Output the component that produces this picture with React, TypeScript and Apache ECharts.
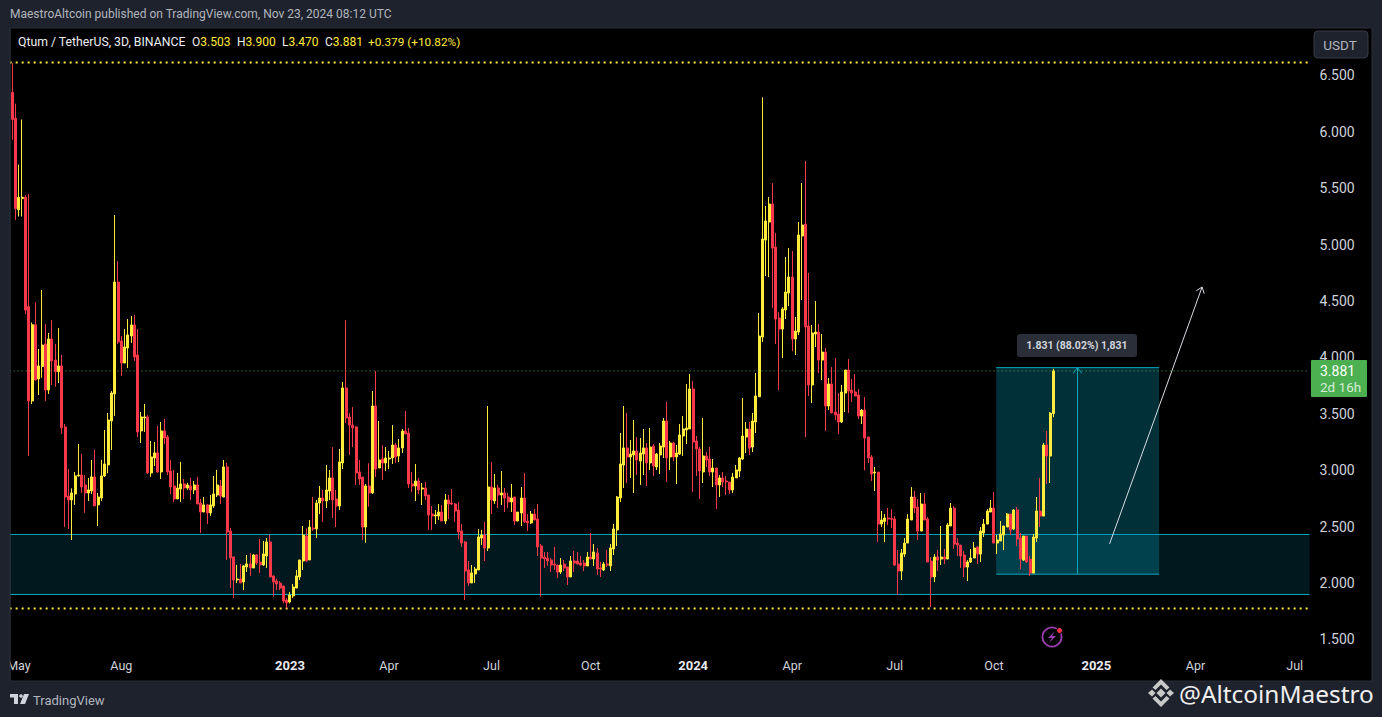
import React, { useEffect, useRef } from "react";
import * as echarts from "echarts";

const opens = [
  6.35,6.12,5.31,5.41,5.42,4.45,3.615,4.29,3.81,3.92,
  4.12,3.712,4.164,3.978,3.875,3.925,3.384,2.772,2.737,2.79,
  2.95,2.958,2.87,2.799,2.817,2.941,2.693,2.755,2.95,3.047,
  3.437,3.677,4.669,4.146,3.951,4.084,4.191,4.288,4.022,3.349,
  3.464,3.473,2.976,3.109,3.154,2.985,3.349,3.295,2.994,2.861,
  2.746,2.834,2.879,2.843,2.861,2.826,2.87,2.71,2.63,2.693,
  2.622,2.684,2.781,2.861,2.763,3.03,2.462,2.232,2.028,2.036,
  2.01,2.143,2.17,2.134,2.249,2.187,2.161,2.24,2.364,2.063,
  2.019,2.0,1.974,1.85,1.832,1.886,1.956,2.054,2.196,2.417,
  2.205,2.488,2.48,2.71,2.754,2.728,2.816,2.932,2.745,2.683,
  3.065,3.73,3.472,3.401,3.384,2.985,2.94,2.497,2.861,2.799,
  3.57,3.02,3.1,3.065,3.1,3.109,3.224,3.127,3.198,3.348,
  3.33,2.878,2.861,2.905,2.834,2.843,2.781,2.612,2.595,2.595,
  2.63,2.55,2.737,2.71,2.701,2.648,2.462,2.364,2.116,2.001,
  2.081,2.116,2.4,2.426,2.311,2.852,2.728,2.843,2.781,2.799,
  2.763,2.719,2.763,2.55,2.621,2.754,2.55,2.533,2.612,2.568,
  2.329,2.231,2.222,2.205,2.169,2.16,2.098,2.169,2.143,2.054,
  2.196,2.196,2.178,2.178,2.152,2.231,2.214,2.267,2.134,2.116,
  2.169,2.152,2.302,2.471,2.754,3.047,3.198,3.118,3.136,3.171,
  3.082,3.144,3.198,3.065,3.215,3.029,3.136,3.206,3.437,3.118,
  3.242,3.118,3.144,3.304,3.357,3.366,3.721,3.26,3.189,2.985,
  3.127,3.1,2.985,3.02,2.87,2.932,2.905,2.896,2.825,2.932,
  2.994,3.1,3.295,3.366,3.206,3.428,3.652,4.181,5.041,5.201,
  5.36,4.979,4.35,4.252,4.421,4.571,4.713,4.164,4.226,5.077,
  5.183,4.279,3.756,4.208,4.226,3.977,4.048,3.57,3.765,3.516,
  3.499,3.428,3.685,3.889,3.711,3.694,3.667,3.481,3.534,3.295,
  3.117,2.976,2.984,2.523,2.547,2.577,2.574,2.568,2.169,2.107,
  2.257,2.355,2.559,2.763,2.674,2.461,2.701,2.568,2.195,2.054,
  2.231,2.213,2.231,2.213,2.506,2.665,2.355,2.337,2.249,2.142,
  2.187,2.222,2.32,2.257,2.444,2.523,2.63,2.665,2.355,2.373,
  2.426,2.497,2.612,2.479,2.648,2.399,2.204,2.417,2.213,2.089,
  2.399,2.639,2.594,3.224,3.126,3.503,
];
const closes = [
  6.11,5.32,5.42,5.42,4.42,3.615,4.29,3.80,3.925,4.11,
  3.712,4.164,3.969,3.875,3.925,3.378,2.763,2.737,2.799,2.95,
  2.958,2.852,2.799,2.826,2.941,2.684,2.763,2.95,3.056,3.446,
  3.685,4.669,4.138,3.951,4.093,4.2,4.288,4.005,3.34,3.473,
  3.473,2.976,3.118,3.154,2.985,3.349,3.287,2.985,2.852,2.746,
  2.843,2.879,2.843,2.87,2.826,2.87,2.701,2.63,2.693,2.622,
  2.693,2.79,2.87,2.772,3.03,2.453,2.223,2.028,2.036,2.001,
  2.152,2.17,2.134,2.249,2.178,2.161,2.258,2.365,2.054,2.01,
  1.992,1.956,1.841,1.826,1.894,1.965,2.063,2.205,2.426,2.196,
  2.497,2.48,2.71,2.754,2.728,2.825,2.932,2.737,2.683,3.074,
  3.73,3.464,3.401,3.375,2.976,2.923,2.497,2.861,2.799,3.57,
  3.011,3.091,3.065,3.109,3.109,3.224,3.118,3.198,3.348,3.322,
  2.878,2.861,2.905,2.825,2.843,2.772,2.604,2.595,2.604,2.63,
  2.55,2.737,2.701,2.701,2.639,2.453,2.355,2.107,2.001,2.09,
  2.125,2.409,2.426,2.311,2.852,2.737,2.843,2.781,2.799,2.754,
  2.719,2.754,2.55,2.63,2.754,2.542,2.533,2.612,2.559,2.32,
  2.222,2.214,2.196,2.16,2.16,2.098,2.16,2.134,2.054,2.196,
  2.178,2.169,2.16,2.152,2.231,2.214,2.276,2.125,2.125,2.169,
  2.16,2.311,2.48,2.763,3.056,3.198,3.118,3.144,3.171,3.091,
  3.153,3.198,3.065,3.206,3.038,3.144,3.215,3.437,3.109,3.242,
  3.118,3.153,3.313,3.366,3.375,3.721,3.251,3.189,2.994,3.127,
  3.091,2.985,3.02,2.87,2.932,2.896,2.896,2.825,2.94,3.003,
  3.109,3.304,3.366,3.198,3.437,3.659,4.19,5.05,5.21,5.36,
  4.97,4.341,4.252,4.429,4.58,4.713,4.164,4.234,5.086,5.174,
  4.27,3.756,4.217,4.226,3.977,4.048,3.57,3.765,3.508,3.49,
  3.428,3.694,3.889,3.703,3.685,3.658,3.481,3.534,3.286,3.109,
  2.967,2.984,2.523,2.559,2.577,2.568,2.565,2.16,2.107,2.266,
  2.355,2.568,2.763,2.665,2.461,2.701,2.559,2.187,2.054,2.231,
  2.204,2.231,2.213,2.515,2.665,2.346,2.337,2.24,2.142,2.187,
  2.222,2.311,2.257,2.461,2.523,2.639,2.665,2.355,2.382,2.435,
  2.506,2.612,2.47,2.648,2.39,2.213,2.417,2.187,2.089,2.408,
  2.639,2.594,3.224,3.126,3.507,3.881,
];
const lows = [
  5.93,5.22,5.25,5.25,4.385,3.127,3.588,3.80,3.668,3.82,
  3.615,3.677,3.756,3.74,3.774,3.322,2.498,2.48,2.382,2.693,
  2.944,2.799,2.622,2.728,2.79,2.684,2.506,2.728,2.941,2.973,
  3.18,3.482,4.12,3.836,3.95,3.907,4.129,3.969,3.295,3.242,
  3.34,2.97,2.941,3.038,2.976,2.923,3.233,2.958,2.79,2.719,
  2.746,2.719,2.746,2.826,2.737,2.79,2.70,2.444,2.63,2.524,
  2.595,2.666,2.763,2.70,2.763,2.205,1.957,1.868,2.001,2.001,
  1.939,2.099,2.063,2.134,2.161,2.09,2.152,2.134,2.054,1.88,
  1.939,1.939,1.82,1.776,1.82,1.868,1.956,2.027,2.116,2.187,
  2.205,2.462,2.4,2.612,2.542,2.666,2.737,2.577,2.497,2.648,
  3.011,3.419,3.136,3.206,2.87,2.87,2.382,2.358,2.677,2.79,
  2.94,3.02,2.914,2.994,3.011,3.056,3.065,3.073,3.153,3.322,
  2.843,2.808,2.728,2.79,2.692,2.737,2.471,2.471,2.524,2.559,
  2.55,2.524,2.568,2.692,2.542,2.388,2.32,1.85,1.974,2.001,
  2.001,2.116,2.338,2.196,2.284,2.612,2.701,2.666,2.692,2.63,
  2.666,2.63,2.515,2.55,2.506,2.533,2.462,2.524,2.559,2.24,
  1.88,2.134,2.152,2.098,2.116,2.045,2.08,2.107,1.983,2.054,
  2.098,2.169,2.152,2.107,2.152,2.214,2.152,2.072,2.054,2.107,
  2.143,2.107,2.249,2.329,2.719,2.843,2.887,2.932,2.799,2.958,
  2.87,2.958,2.861,3.002,2.949,3.002,2.967,3.109,2.896,3.002,
  3.082,2.878,3.136,3.127,3.233,3.366,2.808,2.949,2.745,2.887,
  3.029,2.949,2.852,2.657,2.763,2.852,2.781,2.79,2.799,2.932,
  2.94,3.091,3.153,3.136,3.162,3.331,3.652,4.137,4.722,4.713,
  4.438,4.119,3.711,3.995,4.341,4.456,4.057,4.022,4.199,4.509,
  3.295,3.658,3.596,4.093,3.862,3.8,3.348,3.534,3.508,3.445,
  3.321,3.419,3.516,3.508,3.605,3.658,3.454,3.41,3.0,3.064,
  2.905,2.816,2.364,2.497,2.364,2.515,2.488,2.151,1.894,2.027,
  2.231,2.355,2.559,2.621,2.382,2.461,2.559,2.187,1.788,2.009,
  2.107,2.16,2.169,2.213,2.506,2.302,2.24,2.133,2.054,2.018,
  2.178,2.222,2.169,2.187,2.408,2.523,2.63,2.355,2.257,2.373,
  2.293,2.497,2.426,2.47,2.328,2.124,2.195,2.178,2.062,2.089,
  2.364,2.497,2.594,2.878,2.887,3.47,
];
const highs = [
  6.61,6.25,5.71,6.11,5.44,5.45,4.31,4.49,4.075,4.598,
  4.296,4.217,4.332,4.12,4.261,4.022,3.41,3.012,2.84,2.985,
  3.233,3.145,2.958,2.932,3.092,3.18,2.799,3.092,3.357,3.508,
  3.703,5.263,4.855,4.19,4.252,4.341,4.367,4.376,4.252,3.517,
  3.588,3.49,3.26,3.251,3.393,3.428,3.455,3.313,3.092,3.003,
  2.976,3.074,2.923,2.888,2.932,2.905,2.941,2.746,2.763,2.70,
  2.781,2.95,3.003,2.914,3.092,3.065,2.489,2.232,2.161,2.17,
  2.161,2.249,2.267,2.258,2.258,2.391,2.373,2.4,2.426,2.07,
  2.04,2.018,1.974,1.868,1.921,1.992,2.116,2.205,2.506,2.485,
  2.559,2.763,2.737,2.861,2.825,3.047,3.003,3.206,2.825,3.189,
  3.783,4.332,3.508,3.561,3.39,3.091,2.94,2.878,3.062,3.703,
  3.88,3.437,3.224,3.206,3.171,3.401,3.242,3.277,3.366,3.526,
  3.375,2.985,3.056,2.932,2.887,2.896,2.781,2.683,2.648,2.701,
  2.692,2.79,2.781,2.834,2.71,2.719,2.524,2.373,2.196,2.16,
  2.143,2.48,2.471,2.542,3.57,3.073,2.967,2.87,2.994,2.843,
  2.799,2.878,2.763,2.63,2.852,2.976,2.612,2.639,2.657,2.701,
  2.347,2.276,2.276,2.222,2.32,2.16,2.222,2.205,2.143,2.24,
  2.285,2.276,2.24,2.205,2.276,2.444,2.347,2.311,2.187,2.187,
  2.293,2.347,2.524,2.772,3.331,3.57,3.508,3.268,3.446,3.295,
  3.286,3.366,3.242,3.375,3.233,3.153,3.242,3.464,3.605,3.26,
  3.251,3.224,3.41,3.481,3.765,3.854,3.792,3.304,3.206,3.464,
  3.162,3.206,3.1,3.02,2.958,2.985,2.949,2.896,2.976,3.047,
  3.118,3.641,3.428,3.428,3.508,3.862,4.394,6.306,5.343,5.422,
  5.547,5.103,4.403,4.447,4.89,4.97,4.944,4.359,5.201,5.547,
  5.742,4.749,4.288,4.5,4.297,4.208,4.084,3.818,3.915,3.995,
  3.685,3.756,3.889,3.986,3.809,3.853,3.72,3.543,3.649,3.295,
  3.135,3.029,2.984,2.639,2.612,2.665,2.656,2.594,2.293,2.302,
  2.399,2.612,2.851,2.816,2.745,2.798,2.798,2.585,2.231,2.257,
  2.293,2.506,2.302,2.532,2.71,2.683,2.399,2.337,2.284,2.204,
  2.302,2.364,2.328,2.497,2.568,2.656,2.736,2.807,2.426,2.55,
  2.506,2.621,2.612,2.656,2.674,2.444,2.417,2.417,2.24,2.435,
  2.763,2.931,3.242,3.348,3.516,3.9,
];

const firstBarDate = "2022-04-22";
const categoryCount = 393;
const barDays = 3;
const xTickDates = ["2022-04-30","2022-08-01","2023-01-01","2023-04-01","2023-07-01","2023-10-01","2024-01-01","2024-04-01","2024-07-01","2024-10-01","2025-01-01","2025-04-01","2025-07-01"];
const xTickLabels = ["May","Aug","2023","Apr","Jul","Oct","2024","Apr","Jul","Oct","2025","Apr","Jul"];
const yTicks = [1.5,2,2.5,3,3.5,4,4.5,5,5.5,6,6.5];

const upperDotted = 6.615;
const lowerDotted = 1.775;
const lastPrice = 3.881;
const zoneTop = 2.431;
const zoneBottom = 1.899;
const measureTop = 3.91;
const measureBottom = 2.079;
const measureStart = 298;
const measureEnd = 347;
const measureMid = 322;
const forecastFrom = [332, 2.347];
const forecastTo = [360, 4.625];

const DAY = 86400000;
const startMs = Date.parse(firstBarDate);
const categories = Array.from({ length: categoryCount }, (_, i) =>
  new Date(startMs + i * barDays * DAY).toISOString().slice(0, 10)
);
const labelByIndex = new Map<number, string>();
xTickDates.forEach((d, k) => {
  labelByIndex.set(Math.floor((Date.parse(d) - startMs) / (barDays * DAY)), xTickLabels[k]);
});

const UP = "#ffeb3b";
const DOWN = "#f7374a";
const TEAL = "#00a7bd";
const FONT = "Roboto, sans-serif";

function chevron(tip: number[], from: number[], size: number, stroke: string) {
  const a = Math.atan2(from[1] - tip[1], from[0] - tip[0]);
  const d = 0.65;
  return {
    type: "polyline",
    shape: {
      points: [
        [tip[0] + size * Math.cos(a + d), tip[1] + size * Math.sin(a + d)],
        tip,
        [tip[0] + size * Math.cos(a - d), tip[1] + size * Math.sin(a - d)],
      ],
    },
    style: { stroke, fill: "none", lineWidth: 1 },
  };
}

function hLine(x1: number, x2: number, y: number, stroke: string, lineWidth: number, lineDash?: number[]) {
  return {
    type: "line",
    shape: { x1, y1: y, x2, y2: y },
    style: { stroke, lineWidth, lineDash },
  };
}

function renderAnnotations(params: any, api: any) {
  const g = params.coordSys;
  const left = g.x - 1;
  const right = g.x + g.width;
  const yOf = (p: number) => api.coord([0, p])[1];
  const mL = api.coord([measureStart, measureTop]);
  const mR = api.coord([measureEnd, measureBottom]);
  const mid = api.coord([measureMid, measureTop]);
  const midB = api.coord([measureMid, measureBottom]);
  const midX = Math.round(mid[0]) + 0.5;
  const fA = api.coord(forecastFrom);
  const fB = api.coord(forecastTo);
  return {
    type: "group",
    children: [
      { type: "rect", shape: { x: left, y: yOf(zoneTop), width: right - left, height: yOf(zoneBottom) - yOf(zoneTop) }, style: { fill: "rgba(3,150,180,0.17)" } },
      hLine(left, right, yOf(zoneTop), TEAL, 1),
      hLine(left, right, yOf(zoneBottom), TEAL, 1),
      { type: "rect", shape: { x: mL[0] - 1, y: mL[1], width: mR[0] - mL[0] + 1, height: mR[1] - mL[1] }, style: { fill: "rgba(4,160,190,0.3)" } },
      hLine(mL[0] - 1, mR[0], mL[1], TEAL, 1),
      hLine(mL[0] - 1, mR[0], mR[1], TEAL, 1),
      { type: "line", shape: { x1: midX, y1: midB[1], x2: midX, y2: mid[1] }, style: { stroke: TEAL, lineWidth: 1 } },
      chevron([midX, mid[1]], [midX, midB[1]], 7, TEAL),
      hLine(left, right, yOf(upperDotted), UP, 2, [2, 4]),
      hLine(left, right, yOf(lowerDotted), UP, 2, [2, 4]),
      hLine(left, right, yOf(lastPrice), "#4caf50", 1, [1, 3]),
      { type: "line", shape: { x1: fA[0], y1: fA[1], x2: fB[0], y2: fB[1] }, style: { stroke: "#d8dbe2", lineWidth: 1 } },
      chevron(fB, fA, 7, "#d8dbe2"),
    ],
  };
}

function label(x: number, y: number, text: string, fill: string, font: string, align = "left") {
  return { type: "text", z: 101, x, y, style: { text, fill, font, textAlign: align, textVerticalAlign: "middle" } };
}

function ohlc(x: number, key: string, value: string) {
  return {
    type: "text", z: 101, x, y: 42,
    style: {
      text: `{w|${key}}{y|${value}}`,
      font: `12px ${FONT}`, textVerticalAlign: "middle",
      rich: {
        w: { fill: "#eceef2", font: `12px ${FONT}` },
        y: { fill: UP, font: `12px ${FONT}` },
      },
    },
  };
}

const graphics: any[] = [
  { type: "rect", z: -1, shape: { x: 10, y: 28, width: 1362, height: 653 }, style: { fill: "#000000", stroke: "#2a2e39", lineWidth: 1 } },
  { type: "rect", z: 100, shape: { x: 0, y: 28, width: 10, height: 653 }, style: { fill: "#1e222d" } },
  { type: "line", z: 100, shape: { x1: 10, y1: 28, x2: 10, y2: 681 }, style: { stroke: "#2a2e39", lineWidth: 1 } },
  label(10, 14, "MaestroAltcoin published on TradingView.com, Nov 23, 2024 08:12 UTC", "#b2b5be", `12px ${FONT}`),
  label(18, 42, "Qtum / TetherUS, 3D, BINANCE", "#eceef2", `12.25px ${FONT}`),
  ohlc(192, "O", "3.503"),
  ohlc(237, "H", "3.900"),
  ohlc(282, "L", "3.470"),
  ohlc(325, "C", "3.881"),
  label(368, 42, "+0.379 (+10.82%)", UP, `11.8px ${FONT}`),
  { type: "rect", z: 100, shape: { x: 1314, y: 31, width: 54, height: 27, r: 4 }, style: { fill: "#1e222d", stroke: "#363a45", lineWidth: 1 } },
  label(1340, 45, "USDT", "#b2b5be", `13.5px ${FONT}`, "center"),
  { type: "rect", z: 100, shape: { x: 1311, y: 360, width: 56, height: 37, r: 1 }, style: { fill: "#4caf50" } },
  label(1320, 371, "3.881", "#ffffff", `14px ${FONT}`),
  label(1320, 387, "2d 16h", "#d6ecd7", `13.5px ${FONT}`),
  { type: "rect", z: 100, shape: { x: 1017, y: 334, width: 120, height: 23, r: 3 }, style: { fill: "#2a2e39" } },
  label(1077, 345.5, "1.831 (88.02%) 1,831", "#d1d4dc", `bold 10.5px ${FONT}`, "center"),
  { type: "circle", z: 100, shape: { cx: 1052, cy: 637, r: 9.5 }, style: { fill: "#000000", stroke: "#9c3fb0", lineWidth: 1.8 } },
  { type: "polygon", z: 101, shape: { points: [[1055, 631], [1048, 638], [1052, 638], [1049, 643], [1056, 636], [1052, 636]] }, style: { fill: "#9c3fb0" } },
  { type: "circle", z: 101, shape: { cx: 1059.5, cy: 630.5, r: 3 }, style: { fill: "#f23645", stroke: "#000000", lineWidth: 1 } },
  { type: "rect", z: 100, shape: { x: 10, y: 694, width: 8, height: 3.5 }, style: { fill: "#d1d4dc" } },
  { type: "rect", z: 100, shape: { x: 14, y: 694, width: 4, height: 10 }, style: { fill: "#d1d4dc" } },
  { type: "circle", z: 100, shape: { cx: 21, cy: 696, r: 1.8 }, style: { fill: "#d1d4dc" } },
  { type: "polygon", z: 100, shape: { points: [[24, 694], [29, 694], [25, 704], [20, 704]] }, style: { fill: "#d1d4dc" } },
  label(33, 700, "TradingView", "#b2b5be", `13px ${FONT}`),
  { type: "polygon", z: 100, shape: { points: [[1161, 688.5], [1165.5, 693], [1161, 697.5], [1156.5, 693]] }, style: { fill: "#c9c9c9" } },
  { type: "polygon", z: 100, shape: { points: [[1152, 689.5], [1155.5, 693], [1152, 696.5], [1148, 693]] }, style: { fill: "#c9c9c9" } },
  { type: "polygon", z: 100, shape: { points: [[1170, 689.5], [1174, 693], [1170, 696.5], [1166.5, 693]] }, style: { fill: "#c9c9c9" } },
  { type: "polygon", z: 100, shape: { points: [[1161, 679], [1169.5, 687.5], [1166.5, 690], [1161, 684.5], [1155.5, 690], [1152.5, 687.5]] }, style: { fill: "#c9c9c9" } },
  { type: "polygon", z: 100, shape: { points: [[1161, 707], [1169.5, 698.5], [1166.5, 696], [1161, 701.5], [1155.5, 696], [1152.5, 698.5]] }, style: { fill: "#c9c9c9" } },
  label(1179, 693, "@AltcoinMaestro", "#eeeeee", `24.4px "Noto Sans", sans-serif`),
];

export default function App() {
  const ref = useRef<HTMLDivElement>(null);
  useEffect(() => {
    document.body.style.margin = "0";
    const chart = echarts.init(ref.current!, undefined, { renderer: "svg" });
    chart.setOption({
      animation: false,
      backgroundColor: "#1e222d",
      grid: { left: 10.65, top: 28, width: 1298.87, height: 624, containLabel: false },
      tooltip: { show: false },
      xAxis: {
        type: "category",
        data: categories,
        boundaryGap: true,
        axisLine: { show: false },
        axisTick: { show: false },
        splitLine: { show: false },
        axisLabel: {
          interval: (i: number) => labelByIndex.has(i),
          formatter: (_: string, i: number) => {
            const t = labelByIndex.get(i) || "";
            return /^\d/.test(t) ? `{b|${t}}` : t;
          },
          color: "#d1d4dc",
          fontFamily: FONT,
          fontSize: 12.5,
          margin: 7,
          rich: { b: { fontWeight: "bold", color: "#e8eaef", fontFamily: FONT, fontSize: 13 } },
        },
      },
      yAxis: {
        type: "value",
        position: "right",
        min: 1.389,
        max: 6.921,
        scale: true,
        axisLine: { show: false },
        axisTick: { show: false },
        splitLine: { show: false },
        axisLabel: {
          customValues: yTicks,
          formatter: (v: number) => v.toFixed(3),
          color: "#d1d4dc",
          fontFamily: FONT,
          fontSize: 14,
          margin: 10,
        },
      },
      series: [
        {
          type: "custom",
          z: 1,
          silent: true,
          clip: false,
          renderItem: renderAnnotations,
          encode: { x: 0, y: 1 },
          data: [[0, lastPrice]],
        },
        {
          type: "candlestick",
          z: 2,
          barWidth: 2.5,
          data: opens.map((o, i) => [o, closes[i], lows[i], highs[i]]),
          itemStyle: { color: UP, color0: DOWN, borderColor: UP, borderColor0: DOWN, borderWidth: 1 },
        },
      ],
      graphic: graphics,
    });
    return () => chart.dispose();
  }, []);
  return <div ref={ref} style={{ width: 1382, height: 717 }} />;
}
